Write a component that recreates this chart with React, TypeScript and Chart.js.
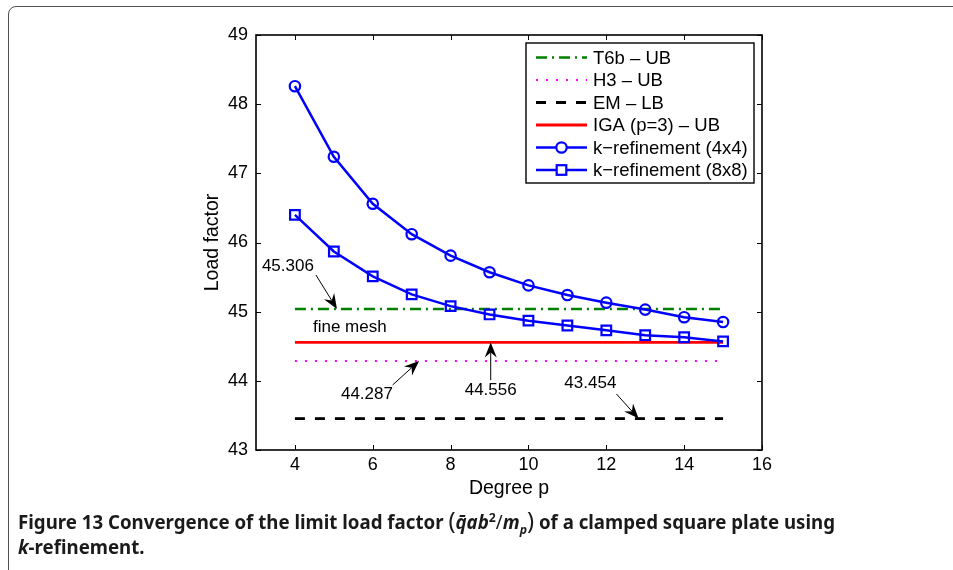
import React, { useEffect, useLayoutEffect, useRef } from "react";
import { Chart, registerables } from "chart.js";

Chart.register(...registerables);

// ---------- data ----------
const DEGREES = [4, 5, 6, 7, 8, 9, 10, 11, 12, 13, 14, 15];
const K_REF_4X4 = [48.26, 47.24, 46.56, 46.12, 45.81, 45.57, 45.38, 45.24, 45.13, 45.03, 44.92, 44.85];
const K_REF_8X8 = [46.4, 45.87, 45.51, 45.25, 45.08, 44.96, 44.87, 44.8, 44.73, 44.66, 44.63, 44.57];
const REF_RANGE = [4, 15];
const T6B_UB = 45.04;
const H3_UB = 44.287;
const EM_LB = 43.454;
const IGA_UB = 44.556;
const X_TICKS = [4, 6, 8, 10, 12, 14, 16];
const Y_TICKS = [43, 44, 45, 46, 47, 48, 49];
const SERIES_LABELS = [
  "T6b – UB",
  "H3 – UB",
  "EM – LB",
  "IGA (p=3) – UB",
  "k−refinement (4x4)",
  "k−refinement (8x8)",
];
// annotation texts with anchor (data coords) and arrow tail/tip (data coords)
const NOTE_TEXTS = ["45.306", "fine mesh", "44.556", "44.287", "43.454"];
const NOTE_POS: [number, number][] = [
  [3.82, 45.65],
  [5.41, 44.77],
  [9.03, 43.87],
  [5.85, 43.8],
  [11.59, 43.96],
];
const NOTE_ARROWS: ([number, number, number, number] | null)[] = [
  [4.54, 45.53, 5.08, T6B_UB],
  null,
  [9.03, 44.01, 9.03, IGA_UB],
  [6.51, 43.94, 7.19, H3_UB],
  [12.26, 43.81, 12.83, EM_LB],
];

const FONT = "'Liberation Sans', Arial, Helvetica, sans-serif";
const BLUE = "#0000ff";
const GREEN = "#008000";
const MAGENTA = "#ff00ff";
const RED = "#ff0000";

type Style = {
  color: string;
  width: number;
  dash: number[];
  marker?: "circle" | "rect";
};
const STYLES: Style[] = [
  { color: GREEN, width: 2.5, dash: [11, 5, 2, 5] },
  { color: MAGENTA, width: 2.2, dash: [2, 8] },
  { color: "#000000", width: 2.8, dash: [10, 10] },
  { color: RED, width: 2.8, dash: [] },
  { color: BLUE, width: 2.5, dash: [], marker: "circle" },
  { color: BLUE, width: 2.5, dash: [], marker: "rect" },
];

function arrow(ctx: CanvasRenderingContext2D, x0: number, y0: number, x1: number, y1: number) {
  const ang = Math.atan2(y1 - y0, x1 - x0);
  const L = 15;
  const W = 6;
  const N = 10;
  const cos = Math.cos(ang);
  const sin = Math.sin(ang);
  ctx.beginPath();
  ctx.moveTo(x0, y0);
  ctx.lineTo(x1 - cos * N, y1 - sin * N);
  ctx.stroke();
  ctx.beginPath();
  ctx.moveTo(x1, y1);
  ctx.lineTo(x1 - cos * L - sin * W, y1 - sin * L + cos * W);
  ctx.lineTo(x1 - cos * N, y1 - sin * N);
  ctx.lineTo(x1 - cos * L + sin * W, y1 - sin * L - cos * W);
  ctx.closePath();
  ctx.fill();
}

const overlayPlugin = {
  id: "overlay",
  afterDatasetsDraw(chart: any) {
    const { ctx, chartArea: a, scales } = chart;
    const xs = scales.x;
    const ys = scales.y;
    ctx.save();
    // axes box
    ctx.strokeStyle = "#000";
    ctx.lineWidth = 1.6;
    ctx.setLineDash([]);
    ctx.strokeRect(a.left, a.top, a.right - a.left, a.bottom - a.top);
    // inward ticks
    ctx.lineWidth = 1;
    ctx.beginPath();
    X_TICKS.forEach((v) => {
      const px = Math.round(xs.getPixelForValue(v)) + 0.5;
      ctx.moveTo(px, a.bottom);
      ctx.lineTo(px, a.bottom - 5);
      ctx.moveTo(px, a.top);
      ctx.lineTo(px, a.top + 5);
    });
    Y_TICKS.forEach((v) => {
      const py = Math.round(ys.getPixelForValue(v)) + 0.5;
      ctx.moveTo(a.left, py);
      ctx.lineTo(a.left + 5, py);
      ctx.moveTo(a.right, py);
      ctx.lineTo(a.right - 5, py);
    });
    ctx.stroke();

    // annotations
    ctx.fillStyle = "#000";
    ctx.strokeStyle = "#000";
    ctx.font = `17px ${FONT}`;
    ctx.textAlign = "center";
    ctx.textBaseline = "middle";
    NOTE_TEXTS.forEach((t, i) => {
      const [vx, vy] = NOTE_POS[i];
      ctx.fillText(t, xs.getPixelForValue(vx), ys.getPixelForValue(vy));
      const ar = NOTE_ARROWS[i];
      if (ar) {
        ctx.lineWidth = 1;
        arrow(
          ctx,
          xs.getPixelForValue(ar[0]),
          ys.getPixelForValue(ar[1]),
          xs.getPixelForValue(ar[2]),
          ys.getPixelForValue(ar[3])
        );
      }
    });

    // legend
    const bx = a.right - 236;
    const by = a.top + 8;
    const bw = 228;
    const bh = 140;
    ctx.fillStyle = "#fff";
    ctx.fillRect(bx, by, bw, bh);
    ctx.strokeStyle = "#000";
    ctx.lineWidth = 1.4;
    ctx.strokeRect(bx, by, bw, bh);
    ctx.font = `18.5px ${FONT}`;
    ctx.textAlign = "left";
    ctx.textBaseline = "middle";
    SERIES_LABELS.forEach((lab, i) => {
      const s = STYLES[i];
      const yy = by + 14.5 + i * 22.5;
      const l0 = bx + 10;
      const l1 = bx + 61;
      ctx.strokeStyle = s.color;
      ctx.lineWidth = s.width;
      ctx.setLineDash(s.dash);
      ctx.beginPath();
      ctx.moveTo(l0, yy);
      ctx.lineTo(l1, yy);
      ctx.stroke();
      ctx.setLineDash([]);
      const mx = (l0 + l1) / 2;
      if (s.marker === "circle") {
        ctx.lineWidth = 2.2;
        ctx.fillStyle = "#fff";
        ctx.beginPath();
        ctx.arc(mx, yy, 5.2, 0, Math.PI * 2);
        ctx.fill();
        ctx.stroke();
      } else if (s.marker === "rect") {
        ctx.lineWidth = 2.2;
        ctx.fillStyle = "#fff";
        ctx.fillRect(mx - 4.8, yy - 4.8, 9.6, 9.6);
        ctx.strokeRect(mx - 4.8, yy - 4.8, 9.6, 9.6);
      }
      ctx.fillStyle = "#000";
      ctx.fillText(lab, bx + 67, yy + 1);
    });
    ctx.restore();
  },
};

function lineSet(i: number, ys: number[], xs: number[]) {
  const s = STYLES[i];
  return {
    label: SERIES_LABELS[i],
    data: xs.map((x, k) => ({ x, y: ys[k] })),
    borderColor: s.color,
    backgroundColor: s.color,
    borderWidth: s.width,
    borderDash: s.dash,
    pointRadius: s.marker ? (s.marker === "rect" ? 6.8 : 5.2) : 0,
    pointStyle: s.marker || "circle",
    pointBorderWidth: 2.2,
    pointBorderColor: s.color,
    pointBackgroundColor: "rgba(255,255,255,0)",
    tension: 0,
    fill: false,
    order: s.marker ? 0 : 1,
  };
}

function ChartView() {
  const ref = useRef<HTMLCanvasElement | null>(null);
  useEffect(() => {
    if (!ref.current) return;
    const flat = (v: number) => REF_RANGE.map(() => v);
    const chart = new Chart(ref.current, {
      type: "line",
      data: {
        datasets: [
          lineSet(0, flat(T6B_UB), REF_RANGE),
          lineSet(1, flat(H3_UB), REF_RANGE),
          lineSet(2, flat(EM_LB), REF_RANGE),
          lineSet(3, flat(IGA_UB), REF_RANGE),
          lineSet(4, K_REF_4X4, DEGREES),
          lineSet(5, K_REF_8X8, DEGREES),
        ] as any,
      },
      options: {
        animation: false,
        responsive: false,
        maintainAspectRatio: false,
        layout: { padding: { left: 0, top: 35, right: 191, bottom: 0 } },
        plugins: { legend: { display: false }, tooltip: { enabled: false } },
        scales: {
          x: {
            type: "linear",
            min: 3,
            max: 16,
            afterBuildTicks: (s: any) => {
              s.ticks = X_TICKS.map((v) => ({ value: v }));
            },
            afterFit: (s: any) => {
              s.height = 60;
            },
            grid: { display: false, drawTicks: false },
            border: { display: false },
            ticks: {
              padding: 4,
              color: "#000",
              font: { family: FONT, size: 18 },
              maxRotation: 0,
              autoSkip: false,
            },
            title: {
              display: true,
              text: "Degree p",
              color: "#000",
              font: { family: FONT, size: 19.5 },
              padding: { top: 0, bottom: 10 },
            },
          },
          y: {
            type: "linear",
            min: 43,
            max: 49,
            afterBuildTicks: (s: any) => {
              s.ticks = Y_TICKS.map((v) => ({ value: v }));
            },
            afterFit: (s: any) => {
              s.width = 256;
            },
            grid: { display: false, drawTicks: false },
            border: { display: false },
            ticks: {
              padding: 8,
              color: "#000",
              font: { family: FONT, size: 18 },
              autoSkip: false,
            },
            title: {
              display: true,
              text: "Load factor",
              color: "#000",
              font: { family: FONT, size: 19.5 },
              padding: { top: 201, bottom: 0 },
            },
          },
        },
      } as any,
      plugins: [overlayPlugin],
    });
    return () => chart.destroy();
  }, []);
  return (
    <canvas
      ref={ref}
      width={953}
      height={510}
      style={{ position: "absolute", left: 0, top: 0, width: 953, height: 510 }}
    />
  );
}

function Caption() {
  const ref = useRef<HTMLDivElement | null>(null);
  const line1 = useRef<HTMLSpanElement | null>(null);
  useLayoutEffect(() => {
    if (!ref.current || !line1.current) return;
    const w = line1.current.getBoundingClientRect().width;
    if (w > 0) ref.current.style.transform = `scaleX(${817 / w})`;
  }, []);
  return (
    <div
      ref={ref}
      style={{
        position: "absolute",
        left: 18,
        top: 510,
        transformOrigin: "0 0",
        fontFamily: "'Noto Sans', 'Open Sans', sans-serif",
        fontWeight: 700,
        fontSize: 19,
        lineHeight: "25px",
        color: "#1a1a1a",
        whiteSpace: "nowrap",
      }}
    >
      <span ref={line1}>
        Figure 13 Convergence of the limit load factor{" "}
        <span style={{ fontSize: 24, fontWeight: 400, lineHeight: "20px" }}>(</span>
        <i>q̄ab</i>
        <sup style={{ fontSize: 12.5, lineHeight: 0 }}>2</sup>
        <span style={{ fontWeight: 400 }}>/</span>
        <i>m</i>
        <sub style={{ fontSize: 12.5, lineHeight: 0 }}>
          <i>p</i>
        </sub>
        <span style={{ fontSize: 24, fontWeight: 400, lineHeight: "20px" }}>)</span> of a clamped
        square plate using
      </span>
      <br />
      <span>
        <i>k</i>-refinement.
      </span>
    </div>
  );
}

export default function App() {
  return (
    <div
      style={{
        position: "fixed",
        left: 0,
        top: 0,
        width: 953,
        height: 570,
        overflow: "hidden",
        background: "#fff",
      }}
    >
      <div
        style={{
          position: "absolute",
          left: 8,
          top: 6,
          width: 1000,
          height: 640,
          border: "1.5px solid #505050",
          borderRadius: 8,
          boxSizing: "border-box",
        }}
      />
      <ChartView />
      <Caption />
    </div>
  );
}
